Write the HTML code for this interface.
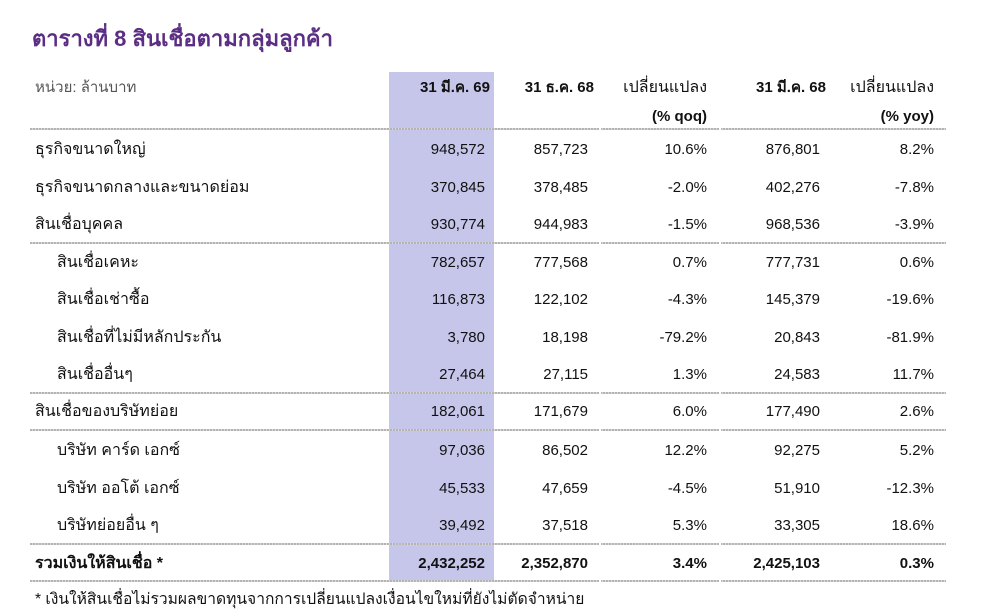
<!DOCTYPE html>
<html>
<head>
<meta charset="utf-8">
<style>
html,body{margin:0;padding:0;background:#fff;}
body{width:998px;height:615px;position:relative;overflow:hidden;font-family:"Liberation Sans","DejaVu Sans",sans-serif;color:#111;}
.t{position:absolute;white-space:nowrap;font-size:15px;line-height:20px;height:20px;}
.th{font-size:16px;}
.r{text-align:right;}
.b{font-weight:bold;}
.title{position:absolute;left:32px;top:26px;font-size:22px;line-height:26px;font-weight:bold;color:#5b2d84;white-space:nowrap;}
.shade{position:absolute;left:389px;top:72px;width:105px;height:508px;background:#c6c6ea;}
.ln{position:absolute;left:30px;width:916px;height:2px;background:repeating-linear-gradient(90deg,#b4b4b4 0,#b4b4b4 2px,#d6d6d6 2px,#d6d6d6 3px);}
.gap{position:absolute;width:2px;height:2px;background:#fff;}
</style>
</head>
<body>
<div class="title">ตารางที่ 8 สินเชื่อตามกลุ่มลูกค้า</div>
<div class="shade"></div>

<!-- header -->
<div class="t" style="left:35px;top:78px;color:#555;">หน่วย: ล้านบาท</div>
<div class="t r b" style="right:508px;top:78px;">31 มี.ค. 69</div>
<div class="t r b" style="right:404px;top:78px;">31 ธ.ค. 68</div>
<div class="t r th" style="right:291px;top:78px;">เปลี่ยนแปลง</div>
<div class="t r b" style="right:291px;top:107px;">(% qoq)</div>
<div class="t r b" style="right:172px;top:78px;">31 มี.ค. 68</div>
<div class="t r th" style="right:64px;top:78px;">เปลี่ยนแปลง</div>
<div class="t r b" style="right:64px;top:107px;">(% yoy)</div>

<!-- lines -->
<div class="ln" style="top:128px;"></div>
<div class="ln" style="top:242px;"></div>
<div class="ln" style="top:392px;"></div>
<div class="ln" style="top:429px;"></div>
<div class="ln" style="top:543px;"></div>
<div class="ln" style="top:580px;"></div>
<div class="gap" style="left:599px;top:128px;"></div><div class="gap" style="left:719px;top:128px;"></div>
<div class="gap" style="left:599px;top:242px;"></div><div class="gap" style="left:719px;top:242px;"></div>
<div class="gap" style="left:599px;top:392px;"></div><div class="gap" style="left:719px;top:392px;"></div>
<div class="gap" style="left:599px;top:429px;"></div><div class="gap" style="left:719px;top:429px;"></div>
<div class="gap" style="left:599px;top:543px;"></div><div class="gap" style="left:719px;top:543px;"></div>
<div class="gap" style="left:599px;top:580px;"></div><div class="gap" style="left:719px;top:580px;"></div>

<!-- rows -->
<div class="t th" style="left:35px;top:140px;">ธุรกิจขนาดใหญ่</div>
<div class="t r" style="right:513px;top:140px;">948,572</div>
<div class="t r" style="right:410px;top:140px;">857,723</div>
<div class="t r" style="right:291px;top:140px;">10.6%</div>
<div class="t r" style="right:178px;top:140px;">876,801</div>
<div class="t r" style="right:64px;top:140px;">8.2%</div>

<div class="t th" style="left:35px;top:178px;">ธุรกิจขนาดกลางและขนาดย่อม</div>
<div class="t r" style="right:513px;top:178px;">370,845</div>
<div class="t r" style="right:410px;top:178px;">378,485</div>
<div class="t r" style="right:291px;top:178px;">-2.0%</div>
<div class="t r" style="right:178px;top:178px;">402,276</div>
<div class="t r" style="right:64px;top:178px;">-7.8%</div>

<div class="t th" style="left:35px;top:215px;">สินเชื่อบุคคล</div>
<div class="t r" style="right:513px;top:215px;">930,774</div>
<div class="t r" style="right:410px;top:215px;">944,983</div>
<div class="t r" style="right:291px;top:215px;">-1.5%</div>
<div class="t r" style="right:178px;top:215px;">968,536</div>
<div class="t r" style="right:64px;top:215px;">-3.9%</div>

<div class="t th" style="left:57px;top:253px;">สินเชื่อเคหะ</div>
<div class="t r" style="right:513px;top:253px;">782,657</div>
<div class="t r" style="right:410px;top:253px;">777,568</div>
<div class="t r" style="right:291px;top:253px;">0.7%</div>
<div class="t r" style="right:178px;top:253px;">777,731</div>
<div class="t r" style="right:64px;top:253px;">0.6%</div>

<div class="t th" style="left:57px;top:290px;">สินเชื่อเช่าซื้อ</div>
<div class="t r" style="right:513px;top:290px;">116,873</div>
<div class="t r" style="right:410px;top:290px;">122,102</div>
<div class="t r" style="right:291px;top:290px;">-4.3%</div>
<div class="t r" style="right:178px;top:290px;">145,379</div>
<div class="t r" style="right:64px;top:290px;">-19.6%</div>

<div class="t th" style="left:57px;top:328px;">สินเชื่อที่ไม่มีหลักประกัน</div>
<div class="t r" style="right:513px;top:328px;">3,780</div>
<div class="t r" style="right:410px;top:328px;">18,198</div>
<div class="t r" style="right:291px;top:328px;">-79.2%</div>
<div class="t r" style="right:178px;top:328px;">20,843</div>
<div class="t r" style="right:64px;top:328px;">-81.9%</div>

<div class="t th" style="left:57px;top:365px;">สินเชื่ออื่นๆ</div>
<div class="t r" style="right:513px;top:365px;">27,464</div>
<div class="t r" style="right:410px;top:365px;">27,115</div>
<div class="t r" style="right:291px;top:365px;">1.3%</div>
<div class="t r" style="right:178px;top:365px;">24,583</div>
<div class="t r" style="right:64px;top:365px;">11.7%</div>

<div class="t th" style="left:35px;top:402px;">สินเชื่อของบริษัทย่อย</div>
<div class="t r" style="right:513px;top:402px;">182,061</div>
<div class="t r" style="right:410px;top:402px;">171,679</div>
<div class="t r" style="right:291px;top:402px;">6.0%</div>
<div class="t r" style="right:178px;top:402px;">177,490</div>
<div class="t r" style="right:64px;top:402px;">2.6%</div>

<div class="t th" style="left:57px;top:441px;">บริษัท คาร์ด เอกซ์</div>
<div class="t r" style="right:513px;top:441px;">97,036</div>
<div class="t r" style="right:410px;top:441px;">86,502</div>
<div class="t r" style="right:291px;top:441px;">12.2%</div>
<div class="t r" style="right:178px;top:441px;">92,275</div>
<div class="t r" style="right:64px;top:441px;">5.2%</div>

<div class="t th" style="left:57px;top:479px;">บริษัท ออโต้ เอกซ์</div>
<div class="t r" style="right:513px;top:479px;">45,533</div>
<div class="t r" style="right:410px;top:479px;">47,659</div>
<div class="t r" style="right:291px;top:479px;">-4.5%</div>
<div class="t r" style="right:178px;top:479px;">51,910</div>
<div class="t r" style="right:64px;top:479px;">-12.3%</div>

<div class="t th" style="left:57px;top:516px;">บริษัทย่อยอื่น ๆ</div>
<div class="t r" style="right:513px;top:516px;">39,492</div>
<div class="t r" style="right:410px;top:516px;">37,518</div>
<div class="t r" style="right:291px;top:516px;">5.3%</div>
<div class="t r" style="right:178px;top:516px;">33,305</div>
<div class="t r" style="right:64px;top:516px;">18.6%</div>

<div class="t b th" style="left:35px;top:554px;">รวมเงินให้สินเชื่อ *</div>
<div class="t r b" style="right:513px;top:554px;">2,432,252</div>
<div class="t r b" style="right:410px;top:554px;">2,352,870</div>
<div class="t r b" style="right:291px;top:554px;">3.4%</div>
<div class="t r b" style="right:178px;top:554px;">2,425,103</div>
<div class="t r b" style="right:64px;top:554px;">0.3%</div>

<div class="t" style="left:35px;top:590px;font-size:15.6px;">* เงินให้สินเชื่อไม่รวมผลขาดทุนจากการเปลี่ยนแปลงเงื่อนไขใหม่ที่ยังไม่ตัดจำหน่าย</div>
</body>
</html>
